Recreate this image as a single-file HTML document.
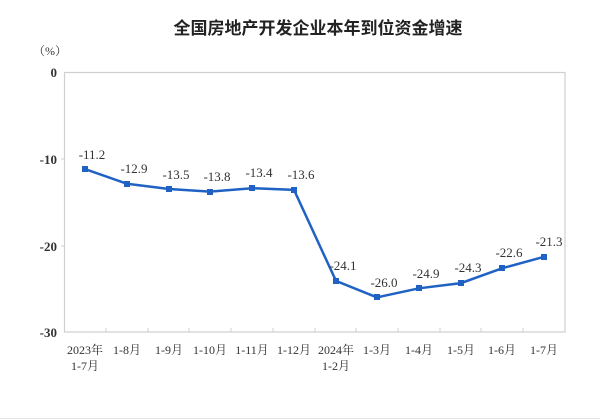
<!DOCTYPE html>
<html><head><meta charset="utf-8"><style>
html,body{margin:0;padding:0;background:#fff;}
svg{display:block;}
</style></head><body>
<svg width="600" height="420" xmlns="http://www.w3.org/2000/svg">
<rect x="0" y="0" width="600" height="420" fill="#fff"/>
<line x1="0" y1="418.5" x2="600" y2="418.5" stroke="#e4e4e4"/>
<text x="318" y="34" text-anchor="middle" font-family="'Liberation Sans','Noto Sans CJK SC',sans-serif" font-size="17" font-weight="bold" fill="#222">全国房地产开发企业本年到位资金增速</text>
<text x="50" y="55" text-anchor="middle" font-family="'Liberation Serif','Noto Serif CJK SC',serif" font-size="12" fill="#333">（%）</text>
<rect x="64.5" y="72.5" width="500.5" height="259.5" fill="none" stroke="#cfcfcf" stroke-width="1.2"/>
<g font-family="'Liberation Serif',serif" font-size="13" font-weight="bold" fill="#333" text-anchor="end">
<text x="57" y="77">0</text><text x="57" y="164">-10</text><text x="57" y="251">-20</text><text x="57" y="337">-30</text>
</g>
<g stroke="#cfcfcf">
<line x1="61" y1="159" x2="64" y2="159"/><line x1="61" y1="246" x2="64" y2="246"/>
<line x1="106" y1="328" x2="106" y2="332"/><line x1="148" y1="328" x2="148" y2="332"/><line x1="189" y1="328" x2="189" y2="332"/><line x1="231" y1="328" x2="231" y2="332"/><line x1="273" y1="328" x2="273" y2="332"/><line x1="315" y1="328" x2="315" y2="332"/><line x1="356" y1="328" x2="356" y2="332"/><line x1="398" y1="328" x2="398" y2="332"/><line x1="440" y1="328" x2="440" y2="332"/><line x1="481" y1="328" x2="481" y2="332"/><line x1="523" y1="328" x2="523" y2="332"/>
</g>
<g font-family="'Liberation Serif','Noto Serif CJK SC',serif" font-size="12" fill="#333" text-anchor="middle">
<text x="85" y="354">2023年</text><text x="85" y="370">1-7月</text>
<text x="127" y="354">1-8月</text><text x="169" y="354">1-9月</text><text x="210" y="354">1-10月</text><text x="252" y="354">1-11月</text><text x="294" y="354">1-12月</text>
<text x="336" y="354">2024年</text><text x="336" y="370">1-2月</text>
<text x="377" y="354">1-3月</text><text x="419" y="354">1-4月</text><text x="461" y="354">1-5月</text><text x="502" y="354">1-6月</text><text x="544" y="354">1-7月</text>
</g>
<polyline fill="none" stroke="#1f62c4" stroke-width="2.5" points="85,169.1 127,183.8 169,189 210,191.6 252,188.2 294,189.9 336,280.9 377,297.4 419,288.3 461,283.1 502,268.3 544,256.8"/>
<g fill="#1f62c4">
<rect x="82" y="166" width="6" height="6"/><rect x="124" y="181" width="6" height="6"/><rect x="166" y="186" width="6" height="6"/><rect x="207" y="189" width="6" height="6"/><rect x="249" y="185" width="6" height="6"/><rect x="291" y="187" width="6" height="6"/><rect x="333" y="278" width="6" height="6"/><rect x="374" y="294" width="6" height="6"/><rect x="416" y="285" width="6" height="6"/><rect x="458" y="280" width="6" height="6"/><rect x="499" y="265" width="6" height="6"/><rect x="541" y="254" width="6" height="6"/>
</g>
<g font-family="'Liberation Serif',serif" font-size="13" fill="#333" text-anchor="middle">
<text x="92" y="159">-11.2</text><text x="134" y="173">-12.9</text><text x="176" y="179">-13.5</text><text x="217" y="181">-13.8</text><text x="259" y="177">-13.4</text><text x="301" y="179">-13.6</text><text x="343" y="270">-24.1</text><text x="384" y="287">-26.0</text><text x="426" y="278">-24.9</text><text x="468" y="272">-24.3</text><text x="509" y="257">-22.6</text><text x="549" y="246">-21.3</text>
</g>
</svg>
</body></html>
